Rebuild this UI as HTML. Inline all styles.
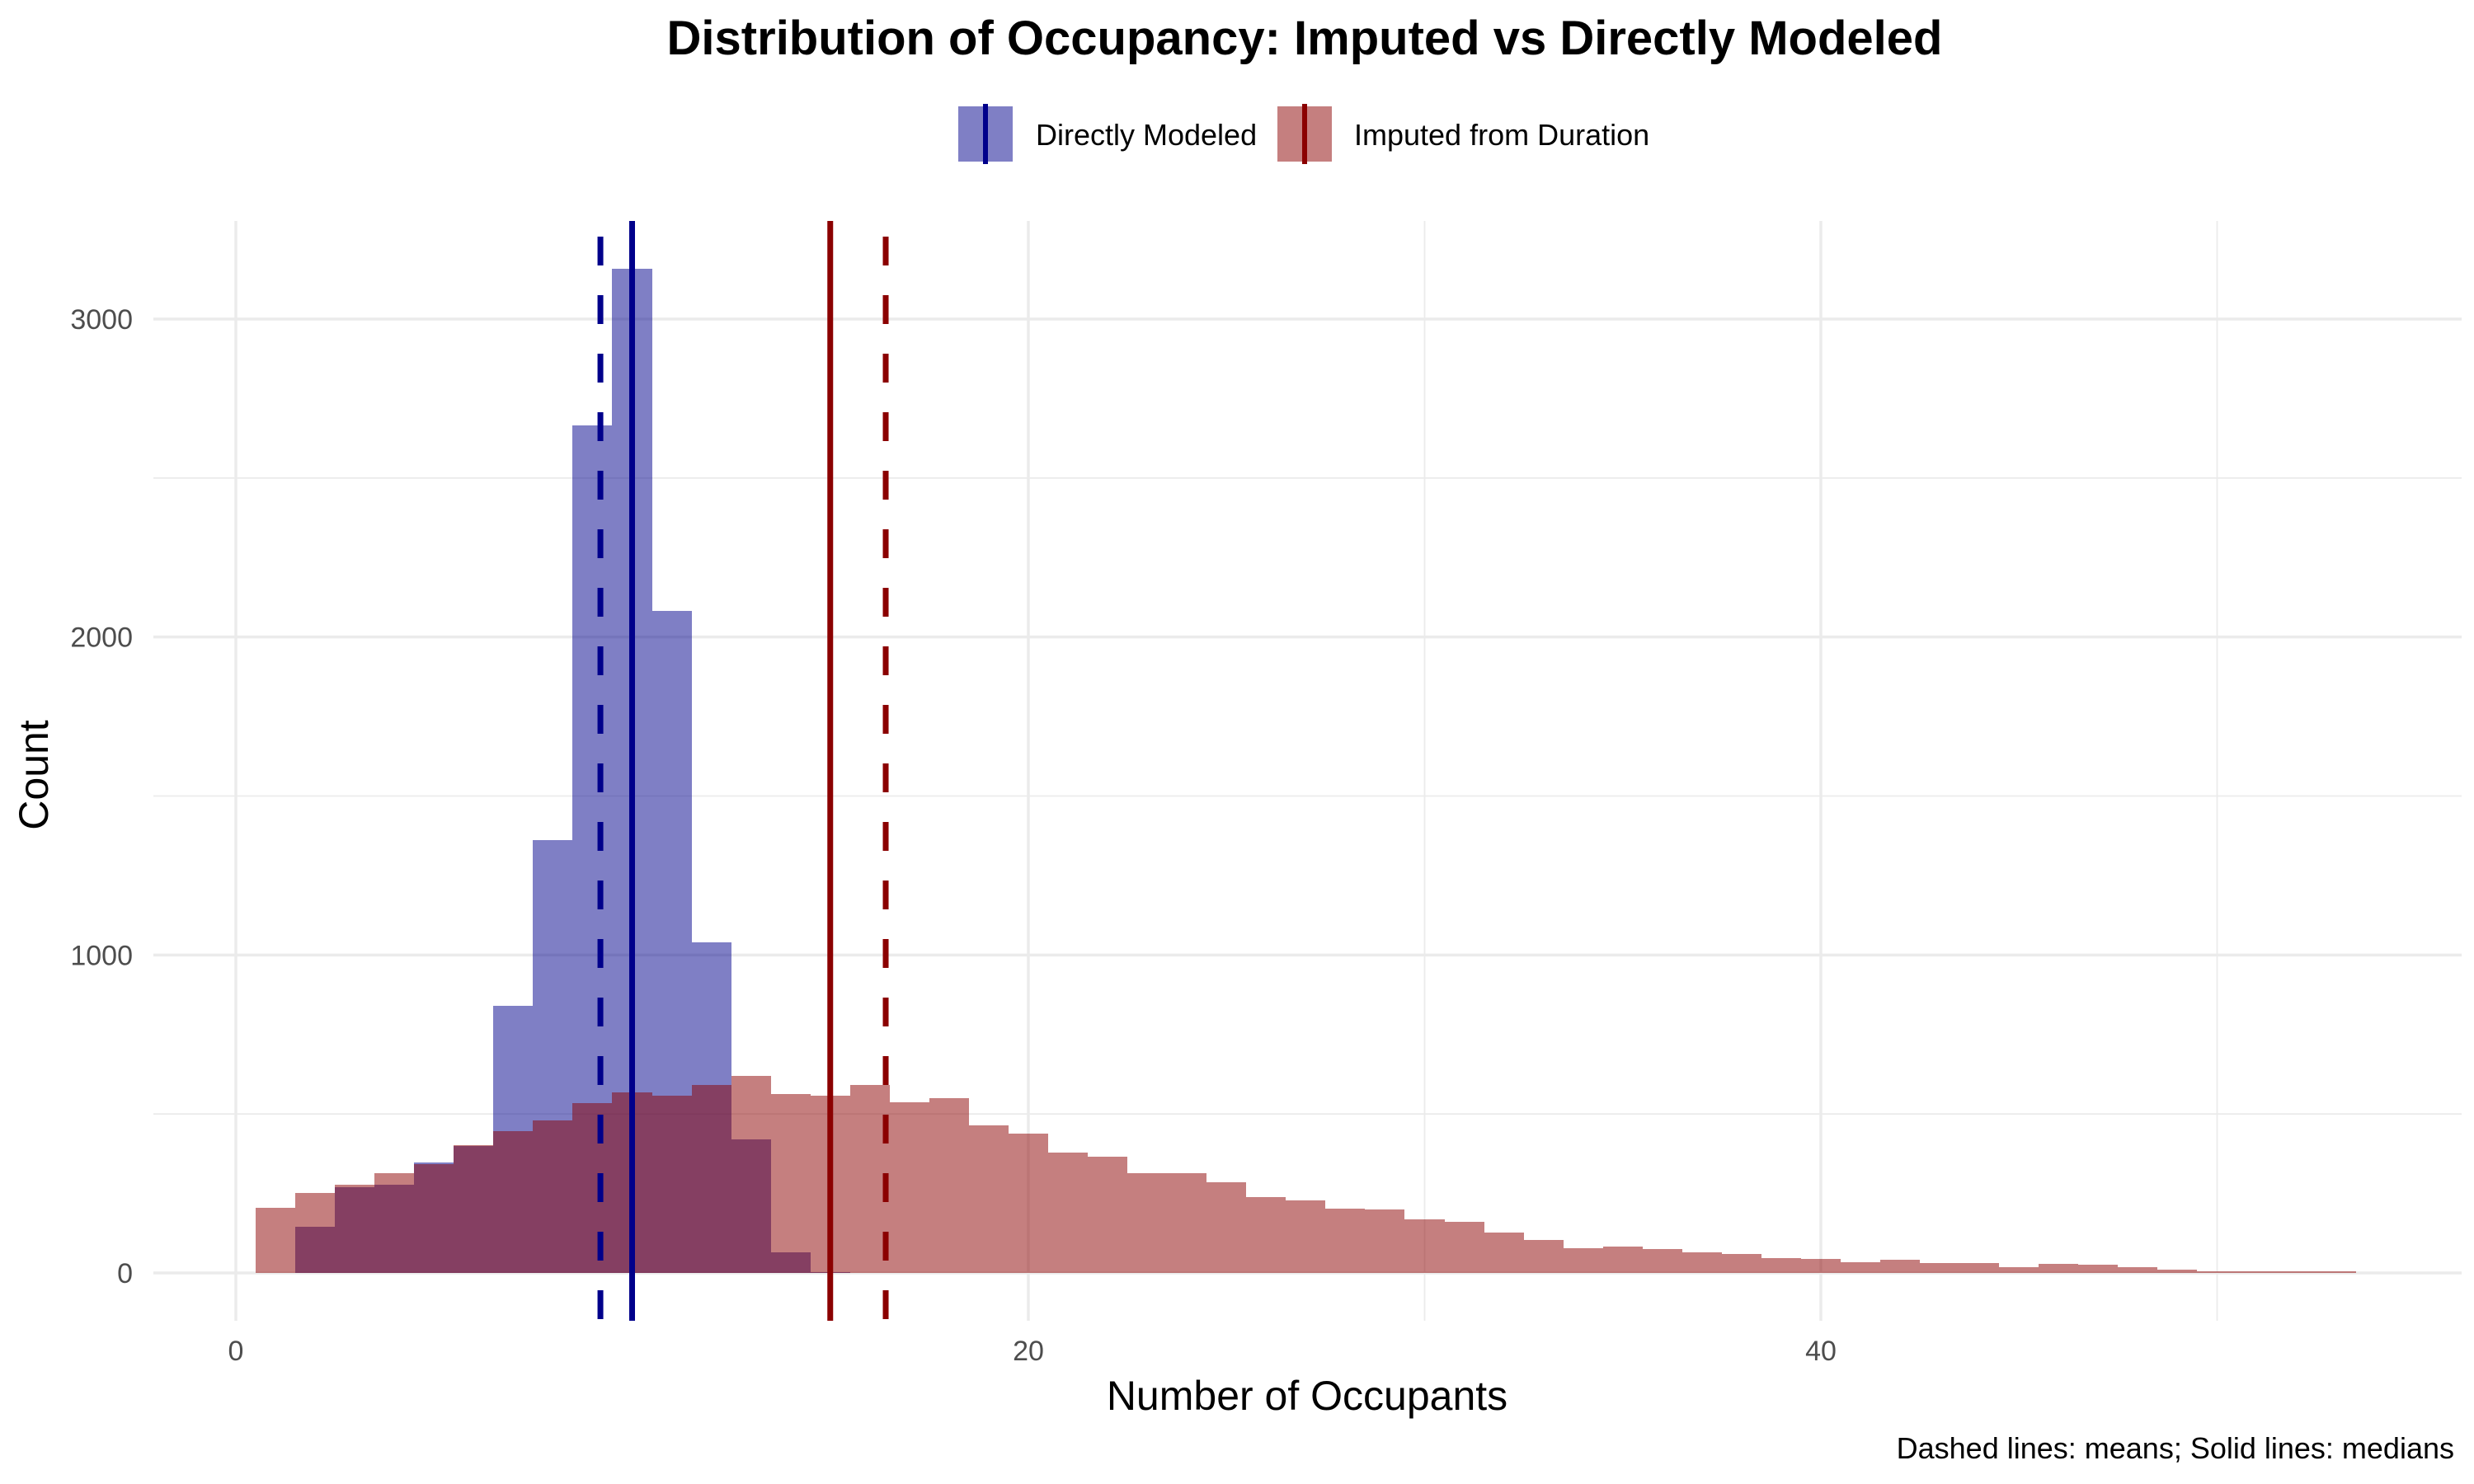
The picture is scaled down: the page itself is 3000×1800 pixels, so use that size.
<!DOCTYPE html>
<html><head><meta charset="utf-8">
<style>
html,body{margin:0;padding:0;background:#fff;}
svg{display:block;font-family:"Liberation Sans",Arial,sans-serif;}
</style></head>
<body>
<svg id="chart" width="3000" height="1800" viewBox="0 0 3000 1800" xmlns="http://www.w3.org/2000/svg">
  <rect x="0" y="0" width="3000" height="1800" fill="#fff"/>
  <text x="1582" y="66" text-anchor="middle" font-size="58" font-weight="bold" fill="#000">Distribution of Occupancy: Imputed vs Directly Modeled</text>
  <g>
    <g>
      <rect x="1162" y="129" width="66" height="67" fill="#00008b" fill-opacity="0.5"/>
      <rect x="1192" y="126" width="6" height="73" fill="#00008b"/>
      <text x="1256" y="176" font-size="36" fill="#000">Directly Modeled</text>
    </g>
    <g>
      <rect x="1549" y="129" width="66" height="67" fill="#8b0000" fill-opacity="0.5"/>
      <rect x="1579" y="126" width="6" height="73" fill="#8b0000"/>
      <text x="1642" y="176" font-size="36" fill="#000">Imputed from Duration</text>
    </g>
  </g>
  <g id="grid"></g>
  <g id="bars-blue" shape-rendering="crispEdges"></g>
  <g id="bars-red" shape-rendering="crispEdges"></g>
  <g id="vlines"></g>
  <g id="ticks"></g>
  <text x="1585" y="1710" text-anchor="middle" font-size="50" fill="#000">Number of Occupants</text>
  <text transform="translate(58,940) rotate(-90)" text-anchor="middle" font-size="50" fill="#000">Count</text>
  <text x="2976" y="1769" text-anchor="end" font-size="36" fill="#000">Dashed lines: means; Solid lines: medians</text>
</svg>
<script>
const blueCenters = [2,3,4,5,6,7,8,9,10,11,12,13,14,15,16];
const blueCounts = [145,269,278,348,399,839,1362,2665,3158,2083,1040,420,66,3,1];
const redCenters = [1,2,3,4,5,6,7,8,9,10,11,12,13,14,15,16,17,18,19,20,21,22,23,24,25,26,27,28,29,30,31,32,33,34,35,36,37,38,39,40,41,42,43,44,45,46,47,48,49,50,51,52,53];
const redCounts = [204,252,278,315,342,403,447,480,534,569,558,591,620,562,558,592,537,550,464,438,378,365,313,313,284,238,227,201,199,168,160,126,103,77,82,74,64,59,46,43,33,41,30,30,17,28,25,17,10,4,4,4,4];
const binWidth = 1;
const xTicks = [0,20,40];
const xMinor = [10,30,50];
const yTicks = [0,1000,2000,3000];
const yMinor = [500,1500,2500];
const blueMean = 9.2, blueMedian = 10;
const redMean = 16.4, redMedian = 15;

const NS = "http://www.w3.org/2000/svg";
const PL = 186, PR = 2985, PT = 268, PB = 1602;
function xs(v){ return 286 + v * 48.05; }
function ys(v){ return 1544 - v * 0.38567; }
function mk(tag, attrs, parent){
  const e = document.createElementNS(NS, tag);
  for (const k in attrs) e.setAttribute(k, attrs[k]);
  parent.appendChild(e);
  return e;
}
const grid = document.getElementById('grid');
yMinor.forEach(v => {
  const l = mk('line', {x1:PL, x2:PR, y1:ys(v), y2:ys(v), stroke:'#ebebeb', 'stroke-width':1.8}, grid);
  
  
});
xMinor.forEach(v => {
  const l = mk('line', {x1:xs(v), x2:xs(v), y1:PT, y2:PB, stroke:'#ebebeb', 'stroke-width':1.8}, grid);
  
  
});
yTicks.forEach(v => {
  const l = mk('line', {x1:PL, x2:PR, y1:ys(v), y2:ys(v), stroke:'#ebebeb', 'stroke-width':3.5}, grid);
  
  
});
xTicks.forEach(v => {
  const l = mk('line', {x1:xs(v), x2:xs(v), y1:PT, y2:PB, stroke:'#ebebeb', 'stroke-width':3.5}, grid);
  
  
});
function drawBars(gid, centers, counts, color, name){
  const g = document.getElementById(gid);
  centers.forEach((c, i) => {
    const x0 = Math.round(xs(c - binWidth/2)), x1 = Math.round(xs(c + binWidth/2));
    const y0 = Math.round(ys(counts[i]));
    const r = mk('rect', {x:x0, y:y0, width:x1-x0, height:Math.round(ys(0))-y0, fill:color, 'fill-opacity':0.5}, g);
    
    
  });
}
drawBars('bars-blue', blueCenters, blueCounts, '#00008b', 'bar-directly-modeled');
drawBars('bars-red', redCenters, redCounts, '#8b0000', 'bar-imputed');
const vl = document.getElementById('vlines');
function vline(v, color, dashed, name){
  const attrs = {x1:xs(v), x2:xs(v), y1: dashed ? 287 : PT, y2: PB, stroke:color, 'stroke-width':7};
  if (dashed) attrs['stroke-dasharray'] = '35 36';
  const l = mk('line', attrs, vl);
  
  
}
vline(blueMean, '#00008b', true, 'mean-line-directly-modeled');
vline(blueMedian, '#00008b', false, 'median-line-directly-modeled');
vline(redMedian, '#8b0000', false, 'median-line-imputed');
vline(redMean, '#8b0000', true, 'mean-line-imputed');
const tk = document.getElementById('ticks');
xTicks.forEach(v => {
  const t = mk('text', {x:xs(v), y:1650, 'text-anchor':'middle', 'font-size':34, fill:'#4d4d4d'}, tk);
  t.textContent = v;
  
  
});
yTicks.forEach(v => {
  const t = mk('text', {x:161, y:ys(v)+12, 'text-anchor':'end', 'font-size':34, fill:'#4d4d4d'}, tk);
  t.textContent = v;
  
  
});
</script>
</body></html>
